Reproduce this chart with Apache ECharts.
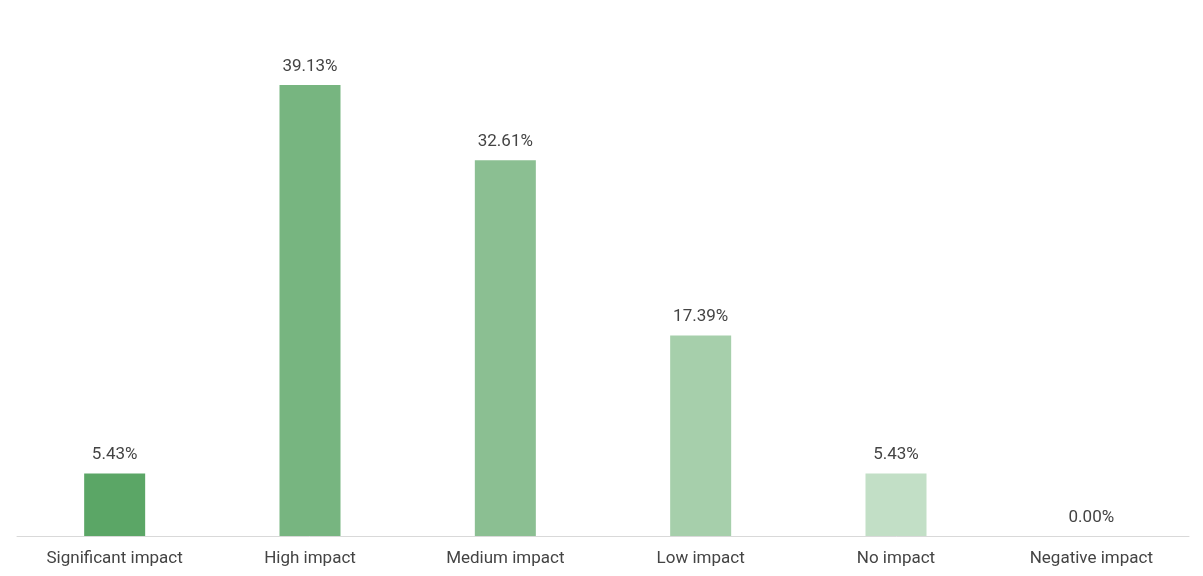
<!DOCTYPE html>
<html>
<head>
<meta charset="utf-8">
<script src="https://cdn.jsdelivr.net/npm/echarts@6/dist/echarts.min.js"></script>
<style>
html,body{margin:0;padding:0;background:#fff;}
#chart{width:1203px;height:576px;}
</style>
</head>
<body>
<div id="chart"></div>
<script>
const categories = ["Significant impact", "High impact", "Medium impact", "Low impact", "No impact", "Negative impact"];
const values = [5.43, 39.13, 32.61, 17.39, 5.43, 0.00];
const barColors = ["#5ba666", "#77b580", "#8bbf92", "#a6cfab", "#c2dfc6", "#d9ecdc"];

const chart = echarts.init(document.getElementById('chart'));
chart.setOption({
  animation: false,
  grid: { left: 17, right: 14, top: 75, bottom: 40, containLabel: false },
  xAxis: {
    type: 'category',
    data: categories,
    axisLine: { lineStyle: { color: '#d9d9d9', width: 1 } },
    axisTick: { show: false },
    axisLabel: { color: '#444', fontFamily: 'Roboto', fontSize: 17, margin: 14 }
  },
  yAxis: {
    type: 'value', min: 0, max: 40,
    show: false,
    splitLine: { show: false }
  },
  series: [{
    type: 'bar',
    data: values.map((v, i) => ({ value: v, itemStyle: { color: barColors[i] } })),
    barWidth: 61,
    label: {
      show: true, position: 'top', distance: 10,
      color: '#444', fontFamily: 'Roboto', fontSize: 17,
      formatter: p => p.value.toFixed(2) + '%'
    }
  }]
});
</script>
</body>
</html>
